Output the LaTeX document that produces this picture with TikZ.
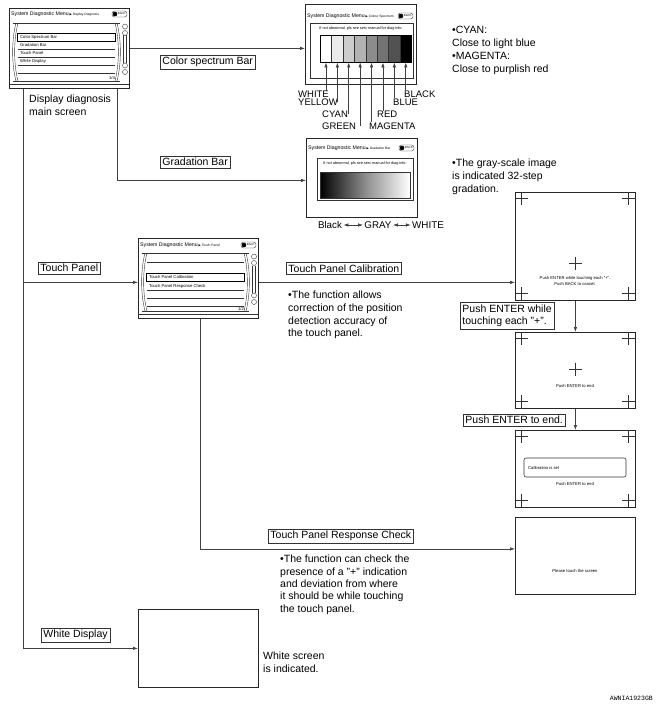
\documentclass[tikz,border=0pt]{standalone}
\usepackage{fontspec}
\setmainfont{Liberation Sans}
\newfontfamily\djv{DejaVu Sans}
\newfontfamily\codefont{Liberation Mono}
\usetikzlibrary{arrows.meta}
\newcommand\mytitle[3]{\node[ttl] at (#1,#2) {System Diagnostic Menu\,{\djv\fontsize{3}{3}\selectfont ▶}\,{\fontsize{3.3}{4}\selectfont #3}};}
\newcommand\backpill[2]{\draw[thin,rounded corners=2.5pt] (#1,#2) rectangle ++(15,6); \fill (#1+3,#2+3) circle (2.3pt); \node[font=\fontsize{2.8}{3}\selectfont,inner sep=0pt] at (#1+9.8,#2+3) {BACK};}
\newcommand\cornerplus[2]{\draw[thin] (#1-6.5,#2) -- (#1+6.5,#2) (#1,#2-6.5) -- (#1,#2+6.5);}
\newcommand\menuframe{%
  \draw[thin] (4,15) -- (111,15) (4,73) -- (111,73);
  \draw[thin] (7,15) .. controls (2.5,32) and (2.5,56) .. (7,73);
  \draw[thin] (9,15) .. controls (4.5,32) and (4.5,56) .. (9,73);
  \draw[thin] (108,15) .. controls (112.5,32) and (112.5,56) .. (108,73);
  \draw[thin] (106,15) .. controls (110.5,32) and (110.5,56) .. (106,73);
  \draw[thin] (116,18.5) circle (2.5pt) (116,25) circle (2.5pt) (116,57.5) circle (2.5pt) (116,64) circle (2.5pt);
  \draw[thin] (114.6,27.5) -- (114.6,55) (117.4,27.5) -- (117.4,55);
  \draw[thin] (0,76) -- (120,76);
}
\begin{document}
\begin{tikzpicture}[x=1pt,y=-1pt,
  lbl/.style={draw=black!80,line width=0.5pt,inner sep=2.2pt,font=\fontsize{10.5}{12.5}\selectfont,anchor=west,align=left},
  body/.style={font=\fontsize{10.5}{12.7}\selectfont,align=left,anchor=north west,inner sep=0pt},
  conn/.style={draw=black!75,line width=0.7pt},
  arr/.style={conn,-{Latex[length=5pt,width=3.5pt]}},
  dbl/.style={conn,{Latex[length=5pt,width=3.5pt]}-{Latex[length=5pt,width=3.5pt]}},
  scr/.style={draw=black!85,line width=0.8pt,inner sep=0pt,anchor=north west},
  ttl/.style={font=\fontsize{5.2}{6}\selectfont,inner sep=0pt,anchor=west},
  itm/.style={font=\fontsize{4.2}{5}\selectfont,inner sep=0pt,anchor=west},
  tiny/.style={font=\fontsize{4.2}{5}\selectfont,inner sep=0pt},
  clr/.style={font=\fontsize{9.5}{11}\selectfont,inner sep=0pt,anchor=west},
  grd/.style={font=\fontsize{9.8}{11}\selectfont,inner sep=1.2pt},
  bar/.style={draw=black!80,line width=0.5pt,minimum width=11.4pt,minimum height=27pt,inner sep=0pt,anchor=north west},
  thin/.style={draw=black!80,line width=0.4pt},
]
\useasboundingbox (0,0) rectangle (665,709);

% ---------- main screen ----------
\node[scr,minimum width=120pt,minimum height=80pt] (main) at (9,8) {};
\begin{scope}[shift={(9,8)}]
  \mytitle{2}{6}{Display Diagnosis}
  \backpill{103}{3}
  \menuframe
  \draw[thin] (9,25) -- (106,25) (9,41) -- (106,41) (9,49) -- (106,49) (9,57) -- (106,57) (9,65) -- (106,65);
  \draw[line width=0.9pt] (8,25) rectangle (106,33);
  \node[itm] at (11,29) {Color Spectrum Bar};
  \node[itm] at (11,37) {Gradation Bar};
  \node[itm] at (11,45) {Touch Panel};
  \node[itm] at (11,53) {White Display};
  \node[tiny] at (103,70) {1/4};
\end{scope}
\node[body] (maintxt) at (29,95) {Display diagnosis\\main screen};

% ---------- colour spectrum screen ----------
\node[scr,minimum width=111pt,minimum height=80pt] (cs) at (305,4) {};
\mytitle{307}{16}{Colour Spectrum}
\backpill{398}{13}
\draw[thin] (310,23) rectangle (413,78);
\node[tiny,font=\fontsize{3.8}{4.5}\selectfont] at (361,29) {If not abnormal, pls see serv manual for diag info.};
\node[bar,fill=white]   (b1) at (320,35) {};
\node[bar,fill=black!8]  (b2) at (331.4,35) {};
\node[bar,fill=black!20] (b3) at (342.8,35) {};
\node[bar,fill=black!30] (b4) at (354.2,35) {};
\node[bar,fill=black!45] (b5) at (365.6,35) {};
\node[bar,fill=black!55] (b6) at (377,35) {};
\node[bar,fill=black!68] (b7) at (388.4,35) {};
\node[bar,fill=black]    (b8) at (399.8,35) {};
\draw[line width=0.9pt] (b1.north west) rectangle (b8.south east);
\node[clr] (lW) at (298,94) {WHITE};
\node[clr] (lY) at (298,102) {YELLOW};
\node[clr] (lC) at (322,114) {CYAN};
\node[clr] (lG) at (322,126) {GREEN};
\node[clr] (lM) at (369,126) {MAGENTA};
\node[clr] (lR) at (377,114) {RED};
\node[clr] (lBu) at (393,102) {BLUE};
\node[clr] (lBk) at (404,94) {BLACK};
\draw[arr] (b1.south |- lW.north) -- (b1.south);
\draw[arr] (b2.south |- lY.east) -- (b2.south);
\draw[arr] (b3.south |- lC.east) -- (b3.south);
\draw[arr] (b4.south |- lG.east) -- (b4.south);
\draw[arr] (b5.south |- lM.north) -- (b5.south);
\draw[arr] (b6.south |- lR.north) -- (b6.south);
\draw[arr] (b7.south |- lBu.north) -- (b7.south);
\draw[arr] (b8.south |- lBk.north) -- (b8.south);
\node[body,font=\fontsize{10.5}{13}\selectfont] (cstxt) at (452,26) {•CYAN:\\Close to light blue\\•MAGENTA:\\Close to purplish red};

% ---------- gradation screen ----------
\node[scr,minimum width=111pt,minimum height=79pt] (gs) at (306,138) {};
\mytitle{308}{148}{Gradation Bar}
\backpill{399}{145}
\draw[thin] (317,158) rectangle (413,200);
\node[tiny,font=\fontsize{3.8}{4.5}\selectfont] at (365,164) {If not abnormal, pls see serv manual for diag info.};
\shade[left color=black,right color=white,middle color=black!45] (320,172) rectangle (410,198);
\draw[thin,line width=0.7pt] (320,172) rectangle (410,198);
\node[grd] (gk) at (330,225) {Black};
\node[grd] (gg) at (378,225) {GRAY};
\node[grd] (gw) at (428,225) {WHITE};
\draw[dbl] (gk) -- (gg);
\draw[dbl] (gg) -- (gw);
\node[body,font=\fontsize{10.5}{13}\selectfont] (gtxt) at (452,159) {•The gray-scale image\\is indicated 32-step\\gradation.};

% ---------- touch panel menu screen ----------
\node[scr,minimum width=120pt,minimum height=80pt] (tp) at (138,238) {};
\begin{scope}[shift={(138,238)}]
  \mytitle{2}{7}{Touch Panel}
  \backpill{103}{4}
  \menuframe
  \draw[thin] (9,24) -- (106,24) (9,52) -- (106,52) (9,60) -- (106,60) (9,68) -- (106,68);
  \draw[line width=0.9pt] (8,35) rectangle (106,43);
  \node[itm] at (11,39) {Touch Panel Calibration};
  \node[itm] at (11,48) {Touch Panel Response Check};
  \node[tiny] at (103,71) {1/2};
\end{scope}

% ---------- calibration screens ----------
\node[scr,minimum width=120pt,minimum height=108pt] (s1) at (515,192) {};
\cornerplus{521.5}{198.5}\cornerplus{628.5}{198.5}\cornerplus{521.5}{293.5}\cornerplus{628.5}{293.5}
\cornerplus{575}{263}
\node[tiny] at (575,278) {Push ENTER while touching each "+".};
\node[tiny] at (575,284) {Push BACK to cancel.};

\node[scr,minimum width=120pt,minimum height=76pt] (s2) at (515,332) {};
\cornerplus{521.5}{338.5}\cornerplus{628.5}{338.5}\cornerplus{521.5}{401.5}\cornerplus{628.5}{401.5}
\cornerplus{575}{369}
\node[tiny] at (575,386) {Push ENTER to end};

\node[scr,minimum width=120pt,minimum height=77pt] (s3) at (515,430) {};
\cornerplus{521.5}{436.5}\cornerplus{628.5}{436.5}\cornerplus{521.5}{500.5}\cornerplus{628.5}{500.5}
\draw[thin,line width=0.6pt,rounded corners=2pt] (524,458) rectangle (626,477);
\node[tiny,anchor=west] at (528,467.5) {Calibration is set};
\node[tiny] at (575,484) {Push ENTER to end};

\node[scr,minimum width=120pt,minimum height=77pt] (s4) at (515,517) {};
\node[tiny] at (575,571) {Please touch the screen};

% ---------- white screen ----------
\node[scr,minimum width=120pt,minimum height=78pt] (ws) at (138,609) {};

% ---------- connectors ----------
\coordinate (trunk) at ([xshift=14pt]main.south west);
\coordinate (tpin) at ([yshift=-4pt]tp.west);
\draw[arr] (trunk) |- (ws.west);
\draw[arr] (trunk |- tpin) -- (tpin);
\draw[arr] (main.east) -- (main.east -| cs.west);
\coordinate (gout) at ([xshift=-12pt]main.south east);
\draw[arr] (gout) |- ([yshift=-2.5pt]gs.west);
\coordinate (tpout) at ([yshift=-4pt]tp.east);
\draw[arr] (tpout) -- (tpout -| s1.west);
\coordinate (tpdown) at ([xshift=62pt]tp.south west);
\draw[arr] (tpdown) |- ([yshift=7pt]s4.west);
\draw[arr] (s1.south) -- (s2.north);
\draw[arr] (s2.south) -- (s3.north);

% ---------- labels ----------
\node[lbl] (lcs) at (160,62) {Color spectrum Bar};
\node[lbl] (lgb) at (160,162) {Gradation Bar};
\node[lbl] (ltp) at (38,268) {Touch Panel};
\node[lbl] (ltc) at (286,268.5) {Touch Panel Calibration};
\node[lbl] (lpe) at (460,316) {Push ENTER while\\touching each  "+".};
\node[lbl] (lpe2) at (463,420) {Push ENTER to end.};
\node[lbl] (ltr) at (268,536) {Touch Panel Response Check};
\node[lbl] (lwd) at (41,635) {White Display};

\node[body] (tctxt) at (288,291) {•The function allows\\correction of the position\\detection accuracy of\\the touch panel.};
\node[body,font=\fontsize{10.5}{12.3}\selectfont] (trtxt) at (280,555) {•The function can check the\\presence of a "+" indication\\and deviation from where\\it should be while touching\\the touch panel.};
\node[body] (wstxt) at (263,652) {White screen\\is indicated.};

\node[font=\codefont\fontsize{6.5}{7}\selectfont,anchor=east,inner sep=0pt] (code) at (653,698) {AWNIA1923GB};
\end{tikzpicture}
\end{document}
